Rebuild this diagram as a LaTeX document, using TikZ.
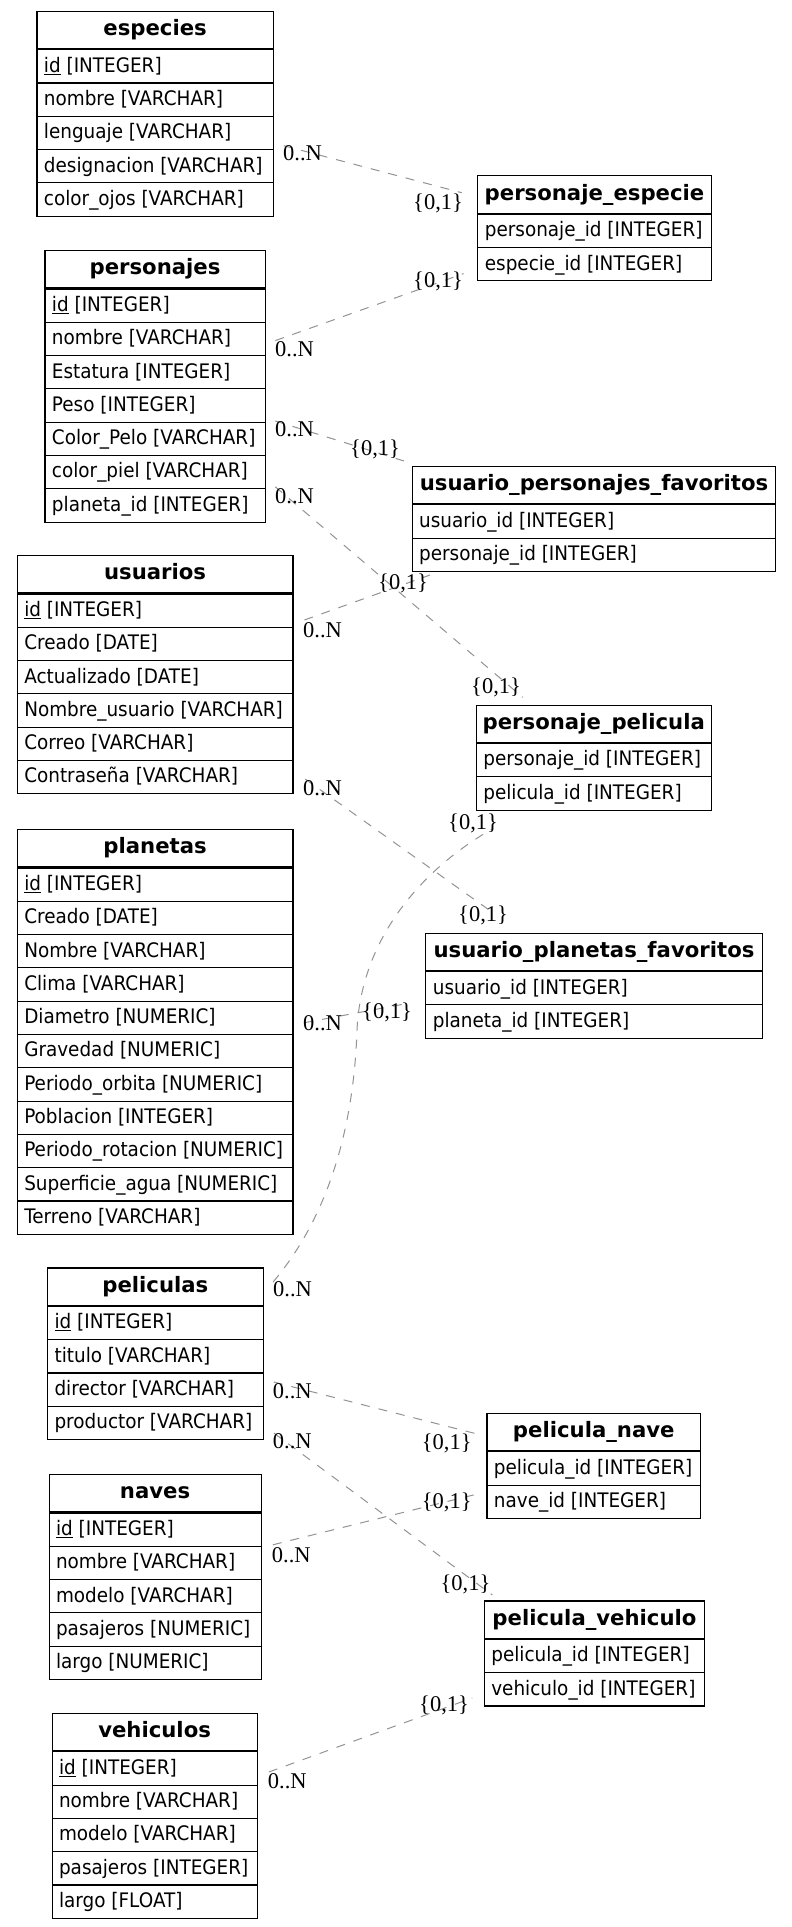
\documentclass[tikz,border=0pt]{standalone}
\usepackage{fontspec}
\newfontfamily\rowfont[FakeStretch=0.92]{DejaVu Sans}
\newfontfamily\hdrfont{DejaVu Sans}
\newfontfamily\lblfont{Liberation Serif}
\usetikzlibrary{calc}
\tikzset{
  tbl/.style={draw=black, line width=1.1pt, rectangle, inner xsep=7pt, inner ysep=5pt, anchor=north west},
  hdr/.style={tbl, font=\hdrfont\bfseries\fontsize{21.2}{24}\selectfont, text height=19.3pt, text depth=8pt},
  cell/.style={tbl, font=\rowfont\fontsize{20}{24}\selectfont, text height=17.5pt, text depth=5.8pt},
  rel/.style={draw=gray!85, line width=1pt, dash pattern=on 9pt off 9pt},
  card/.style={font=\lblfont\fontsize{22.5}{26}\selectfont, inner sep=0pt, anchor=base west},
}
\newcommand\ertable[6]{%
  \pgfmathsetmacro\tw{#4-14}%
  \node[hdr] (#1) at (#2,#3) {\makebox[\tw pt][c]{#5}};
  \foreach \r [count=\i] in {#6} {
    \node[cell] (#1-\i) at ($(#1.south west)+(0,{(\i-1)*33.3})$) {\makebox[\tw pt][l]{\r}};
  }%
}
\begin{document}
\begin{tikzpicture}[x=1pt, y=-1pt]
\fill[white] (0,0) rectangle (792,1927);
\useasboundingbox (0,0) rectangle (792,1927);

\ertable{especies}{36.4}{10.7}{236.3}{especies}{\underline{id} [INTEGER], nombre [VARCHAR], lenguaje [VARCHAR], designacion [VARCHAR], color\_ojos [VARCHAR]}
\ertable{pe}{477.3}{175.3}{233.3}{personaje\_especie}{personaje\_id [INTEGER], especie\_id [INTEGER]}
\ertable{personajes}{44.4}{250}{220.2}{personajes}{\underline{id} [INTEGER], nombre [VARCHAR], Estatura [INTEGER], Peso [INTEGER], Color\_Pelo [VARCHAR], color\_piel [VARCHAR], planeta\_id [INTEGER]}
\ertable{upf}{411.6}{465.8}{363.7}{usuario\_personajes\_favoritos}{usuario\_id [INTEGER], personaje\_id [INTEGER]}
\ertable{usuarios}{16.7}{555}{275.7}{usuarios}{\underline{id} [INTEGER], Creado [DATE], Actualizado [DATE], Nombre\_usuario [VARCHAR], Correo [VARCHAR], Contraseña [VARCHAR]}
\ertable{pp}{475.8}{704.5}{234.8}{personaje\_pelicula}{personaje\_id [INTEGER], pelicula\_id [INTEGER]}
\ertable{planetas}{16.7}{829}{275.7}{planetas}{\underline{id} [INTEGER], Creado [DATE], Nombre [VARCHAR], Clima [VARCHAR], Diametro [NUMERIC], Gravedad [NUMERIC], Periodo\_orbita [NUMERIC], Poblacion [INTEGER], Periodo\_rotacion [NUMERIC], Superficie\_agua [NUMERIC], Terreno [VARCHAR]}
\ertable{uplf}{425.3}{932.6}{336.3}{usuario\_planetas\_favoritos}{usuario\_id [INTEGER], planeta\_id [INTEGER]}
\ertable{peliculas}{47}{1267.4}{215.6}{peliculas}{\underline{id} [INTEGER], titulo [VARCHAR], director [VARCHAR], productor [VARCHAR]}
\ertable{naves}{48.5}{1474}{212.1}{naves}{\underline{id} [INTEGER], nombre [VARCHAR], modelo [VARCHAR], pasajeros [NUMERIC], largo [NUMERIC]}
\ertable{vehiculos}{51.5}{1712.8}{205.1}{vehiculos}{\underline{id} [INTEGER], nombre [VARCHAR], modelo [VARCHAR], pasajeros [INTEGER], largo [FLOAT]}
\ertable{pn}{486.4}{1412.8}{213.6}{pelicula\_nave}{pelicula\_id [INTEGER], nave\_id [INTEGER]}
\ertable{pv}{483.8}{1600.4}{220.2}{pelicula\_vehiculo}{pelicula\_id [INTEGER], vehiculo\_id [INTEGER]}

% connectors
\draw[rel] ([shift={(10,135)}]especies.north east) -- ([shift={(-15.6,17.4)}]pe.north west);
\draw[rel] ([shift={(9.6,90.6)}]personajes.north east) -- ([shift={(-13.7,98.3)}]pe.north west);
\draw[rel] ([shift={(9.6,171)}]personajes.north east) -- ([shift={(-7.6,-4.8)}]upf.north west);
\draw[rel] ([shift={(9.6,236.8)}]personajes.north east) -- ([shift={(46.9,-7.2)}]pp.north west);
\draw[rel] ([shift={(10.9,65)}]usuarios.north east) -- ([shift={(18.4,109.2)}]upf.north west);
\draw[rel] ([shift={(11.6,224)}]usuarios.north east) -- ([shift={(68,-19.6)}]uplf.north west);
\draw[rel] ([shift={(10.9,193.7)}]planetas.north east) -- ([shift={(-18.3,70.9)}]uplf.north west);
\draw[rel] ([shift={(9.4,14.6)}]peliculas.north east) .. controls (332,1212) and (354,1120) .. (357,1030) .. controls (361,940) and (420,870) .. ([shift={(17.2,124)}]pp.north west);
\draw[rel] ([shift={(10.1,114.6)}]peliculas.north east) -- ([shift={(-9.1,21.2)}]pn.north west);
\draw[rel] ([shift={(10.1,165.6)}]peliculas.north east) -- ([shift={(8.6,-5.4)}]pv.north west);
\draw[rel] ([shift={(11.1,70.8)}]naves.north east) -- ([shift={(-9.1,81.2)}]pn.north west);
\draw[rel] ([shift={(11.1,59.2)}]vehiculos.north east) -- ([shift={(-11.6,97.6)}]pv.north west);

% cardinality labels
\node[card] (l1a) at (283,160.7) {0..N};
\node[card] (l1b) at (413,209.5) {\{0,1\}};
\node[card] (l2a) at (275,356) {0..N};
\node[card] (l2b) at (413,287) {\{0,1\}};
\node[card] (l3a) at (275,436) {0..N};
\node[card] (l3b) at (350,455) {\{0,1\}};
\node[card] (l4a) at (275,503) {0..N};
\node[card] (l4b) at (471,693) {\{0,1\}};
\node[card] (l5a) at (303,637) {0..N};
\node[card] (l5b) at (378,589) {\{0,1\}};
\node[card] (l6a) at (303,795.5) {0..N};
\node[card] (l6b) at (458,921) {\{0,1\}};
\node[card] (l7a) at (303,1030) {0..N};
\node[card] (l7b) at (362,1018) {\{0,1\}};
\node[card] (l8a) at (273,1296.7) {0..N};
\node[card] (l8b) at (448,829) {\{0,1\}};
\node[card] (l9a) at (272.7,1398) {0..N};
\node[card] (l9b) at (421.7,1449) {\{0,1\}};
\node[card] (l10a) at (272.7,1448) {0..N};
\node[card] (l10b) at (440.4,1590) {\{0,1\}};
\node[card] (l11a) at (271.7,1562) {0..N};
\node[card] (l11b) at (421.7,1508) {\{0,1\}};
\node[card] (l12a) at (267.7,1788) {0..N};
\node[card] (l12b) at (419,1711) {\{0,1\}};
\end{tikzpicture}
\end{document}
